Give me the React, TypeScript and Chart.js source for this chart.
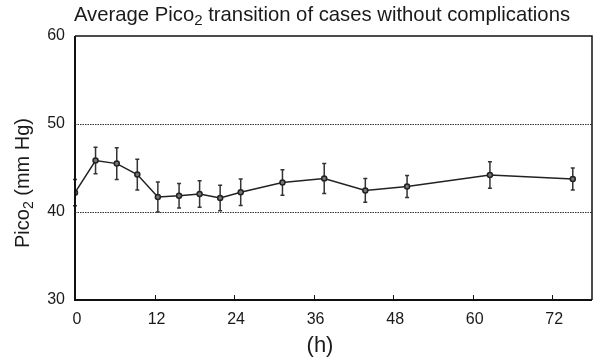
import React, { useEffect, useRef } from "react";
import { Chart, registerables } from "chart.js";
Chart.register(...registerables);

const hours = [0, 3.1, 6.3, 9.4, 12.5, 15.7, 18.8, 21.9, 25.0, 31.3, 37.6, 43.8, 50.1, 62.6, 75.1];
const means = [42.2, 45.85, 45.5, 44.25, 41.7, 41.85, 42.05, 41.6, 42.25, 43.35, 43.8, 42.45, 42.9, 44.2, 43.75];
const errors = [1.5, 1.5, 1.8, 1.75, 1.7, 1.4, 1.5, 1.45, 1.5, 1.45, 1.7, 1.35, 1.25, 1.5, 1.25];
const xTicks = [0, 12, 24, 36, 48, 60, 72];
const yTicks = [30, 40, 50, 60];
const refLines = [40, 50];

const FONT = "'Liberation Sans', Arial, Helvetica, sans-serif";
const INK = "#1a1a1a";

type Seg = { t: string; sub?: boolean };

function drawRich(ctx: CanvasRenderingContext2D, segs: Seg[], size: number) {
  const subSize = Math.round(size * 0.72);
  let total = 0;
  const widths = segs.map((s) => {
    ctx.font = `${s.sub ? subSize : size}px ${FONT}`;
    const w = ctx.measureText(s.t).width;
    total += w;
    return w;
  });
  let x = -total / 2;
  segs.forEach((s, i) => {
    ctx.font = `${s.sub ? subSize : size}px ${FONT}`;
    ctx.fillText(s.t, x, s.sub ? size * 0.22 : 0);
    x += widths[i];
  });
}

const decorPlugin = {
  id: "decor",
  beforeDatasetsDraw(chart: any) {
    const { ctx, chartArea: a, scales } = chart;
    const xs = scales.x;
    const ys = scales.y;
    ctx.save();
    ctx.strokeStyle = "#333";
    ctx.lineWidth = 1;
    ctx.setLineDash([1.5, 1]);
    refLines.forEach((v) => {
      const y = Math.round(ys.getPixelForValue(v)) + 0.5;
      ctx.beginPath();
      ctx.moveTo(a.left, y);
      ctx.lineTo(a.right, y);
      ctx.stroke();
    });
    ctx.setLineDash([]);
    ctx.strokeStyle = "#333";
    ctx.lineWidth = 1.5;
    hours.forEach((h, i) => {
      const x = xs.getPixelForValue(h);
      const yt = ys.getPixelForValue(means[i] + errors[i]);
      const yb = ys.getPixelForValue(means[i] - errors[i]);
      ctx.beginPath();
      ctx.moveTo(x, yt);
      ctx.lineTo(x, yb);
      ctx.moveTo(x - 2, yt);
      ctx.lineTo(x + 2, yt);
      ctx.moveTo(x - 2, yb);
      ctx.lineTo(x + 2, yb);
      ctx.stroke();
    });
    ctx.restore();
  },
  afterDraw(chart: any) {
    const { ctx, chartArea: a, scales } = chart;
    const xs = scales.x;
    ctx.save();
    ctx.strokeStyle = "#111";
    ctx.lineWidth = 1.5;
    ctx.beginPath();
    ctx.moveTo(a.left, a.top);
    ctx.lineTo(a.right, a.top);
    ctx.lineTo(a.right, a.bottom);
    ctx.stroke();
    ctx.lineWidth = 2;
    ctx.beginPath();
    ctx.moveTo(a.left, a.top);
    ctx.lineTo(a.left, a.bottom);
    ctx.lineTo(a.right, a.bottom);
    ctx.stroke();
    ctx.lineWidth = 1;
    xTicks.forEach((v) => {
      const x = Math.round(xs.getPixelForValue(v)) + 0.5;
      ctx.beginPath();
      ctx.moveTo(x, a.bottom);
      ctx.lineTo(x, a.bottom - 5);
      ctx.stroke();
    });
    ctx.fillStyle = INK;
    ctx.textAlign = "left";
    ctx.textBaseline = "alphabetic";
    ctx.save();
    ctx.translate(322, 21);
    drawRich(ctx, [{ t: "Average Pico" }, { t: "2", sub: true }, { t: " transition of cases without complications" }], 20.3);
    ctx.restore();
    ctx.save();
    ctx.translate(320, 352);
    drawRich(ctx, [{ t: "(h)" }], 22);
    ctx.restore();
    ctx.save();
    ctx.translate(29, 183);
    ctx.rotate(-Math.PI / 2);
    drawRich(ctx, [{ t: "Pico" }, { t: "2", sub: true }, { t: " (mm Hg)" }], 20);
    ctx.restore();
    ctx.restore();
  },
};

export default function App() {
  const ref = useRef<HTMLCanvasElement>(null);
  useEffect(() => {
    if (!ref.current) return;
    const chart = new Chart(ref.current, {
      type: "line",
      data: {
        datasets: [
          {
            data: hours.map((h, i) => ({ x: h, y: means[i] })),
            borderColor: "#222",
            borderWidth: 1.5,
            pointRadius: 2.5,
            pointBorderWidth: 1.5,
            pointBorderColor: "#222",
            pointBackgroundColor: "#777",
            tension: 0,
          },
        ],
      },
      options: {
        animation: false,
        responsive: false,
        devicePixelRatio: 1,
        layout: { padding: { top: 36, right: 12, left: 0, bottom: 0 } },
        plugins: { legend: { display: false }, tooltip: { enabled: false }, title: { display: false } },
        scales: {
          x: {
            type: "linear",
            min: 0,
            max: 78,
            afterBuildTicks: (s: any) => {
              s.ticks = xTicks.map((v) => ({ value: v }));
            },
            afterFit: (s: any) => {
              s.height = 60;
            },
            grid: { display: false, drawTicks: false },
            border: { display: false },
            ticks: { color: INK, font: { family: FONT, size: 16 }, padding: 10, maxRotation: 0, labelOffset: 2 },
          },
          y: {
            type: "linear",
            min: 30,
            max: 60,
            afterBuildTicks: (s: any) => {
              s.ticks = yTicks.map((v) => ({ value: v }));
            },
            afterFit: (s: any) => {
              s.width = 75;
            },
            grid: { display: false, drawTicks: false },
            border: { display: false },
            ticks: { color: INK, font: { family: FONT, size: 16 }, padding: 10 },
          },
        },
      },
      plugins: [decorPlugin],
    });
    return () => chart.destroy();
  }, []);
  return (
    <div style={{ position: "fixed", left: 0, top: 0, width: 604, height: 360, background: "#fff" }}>
      <canvas ref={ref} width={604} height={360} />
    </div>
  );
}
